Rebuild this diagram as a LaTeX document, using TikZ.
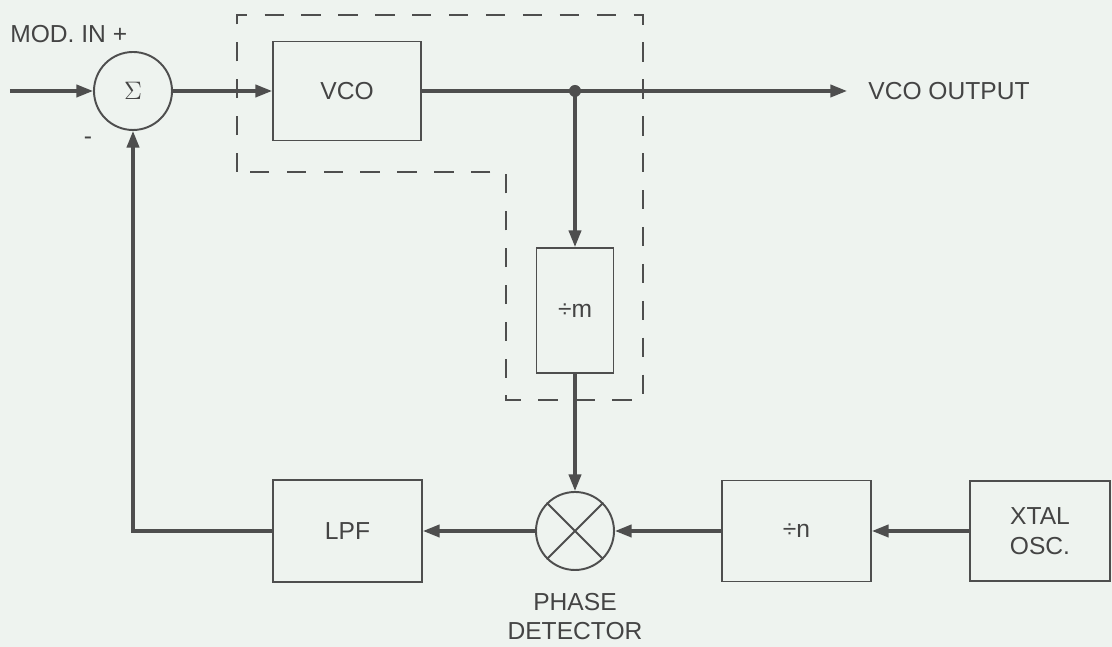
\documentclass[tikz,border=0pt]{standalone}
\usepackage{fontspec}
\setmainfont{Liberation Sans}
\usepackage{tikz}
\usetikzlibrary{shapes, arrows.meta, positioning, calc}

\definecolor{paper}{RGB}{238,243,239}
\definecolor{ink}{RGB}{78,78,78}
\definecolor{txt}{RGB}{68,68,68}

\begin{document}
\begin{tikzpicture}[
			>={Triangle[length=9.5pt, width=7pt]},
			block/.style={rectangle, draw=ink, line width=1.1pt, align=center, font=\fontsize{14}{17}\selectfont, text=txt, inner sep=0pt},
			junction/.style={circle, draw=ink, line width=1.1pt, minimum size=1.56cm, inner sep=0pt, text=txt},
			label/.style={font=\fontsize{14}{16.5}\selectfont, text=txt, inner sep=0pt, align=center},
			arrow/.style={->, line width=1.8pt, color=ink},
			link/.style={line width=1.8pt, color=ink},
			group/.style={draw=ink, line width=1pt, dash pattern=on 11pt off 10pt}
			]
			
			% --- Page ---
			\fill[paper] (0, 0) rectangle (22.24, 12.94);
			\useasboundingbox (0, 0) rectangle (22.24, 12.94);
			
			% --- Forward path (top row) ---
			\coordinate (mod_in) at (0.2, 11.12);
			\node[junction, font=\Large] (sum) at (2.66, 11.12) {$\Sigma$};
			\node[block, minimum width=2.96cm, minimum height=1.98cm] (vco) at (6.94, 11.12) {VCO};
			\node[circle, fill=ink, inner sep=0pt, minimum size=0.24cm] (tap) at (11.5, 11.12) {};
			\coordinate (vco_out) at (16.94, 11.12);
			\node[label, anchor=west] (out_lbl) at (17.36, 11.12) {VCO OUTPUT};
			
			\node[label, anchor=west] (in_lbl) at (0.2, 12.26) {MOD. IN +};
			\node[label] (minus) at (1.76, 10.12) {-};
			
			% --- Divider ---
			\node[block, minimum width=1.54cm, minimum height=2.5cm] (div_m) at (11.5, 6.73) {÷m};
			
			% --- Bottom row ---
			\node[junction] (pd) at (11.5, 2.32) {};
			\draw[ink, line width=1.1pt] (pd.45) -- (pd.225) (pd.135) -- (pd.315);
			\node[label, below=0.45cm of pd] (pd_lbl) {PHASE\\DETECTOR};
			\node[block, minimum width=2.98cm, minimum height=2.04cm] (lpf) at (6.95, 2.32) {LPF};
			\node[block, minimum width=2.98cm, minimum height=2.02cm] (div_n) at (15.93, 2.32) {÷n};
			\node[block, minimum width=2.8cm, minimum height=2.0cm] (xtal) at (20.8, 2.32) {XTAL\\OSC.};
			
			% --- Connections ---
			\draw[arrow] (mod_in) -- (sum.west);
			\draw[arrow] (sum.east) -- (vco.west);
			\draw[link] (vco.east) -- (tap.center);
			\draw[arrow] (tap.center) -- (vco_out);
			\draw[arrow] (tap.center) -- (div_m.north);
			\draw[arrow] (div_m.south) -- (pd.north);
			\draw[arrow] (xtal.west) -- (div_n.east);
			\draw[arrow] (div_n.west) -- (pd.east);
			\draw[arrow] (pd.west) -- (lpf.east);
			\draw[arrow] (lpf.west) -| (sum.south);
			
			% --- Dashed grouping round VCO and divider ---
			\draw[group] (4.74, 9.5) -- (4.74, 12.64) -- (12.86, 12.64) -- (12.86, 4.94) -- (10.12, 4.94) -- (10.12, 9.5) -- cycle;
			
			\end{tikzpicture}
\end{document}
